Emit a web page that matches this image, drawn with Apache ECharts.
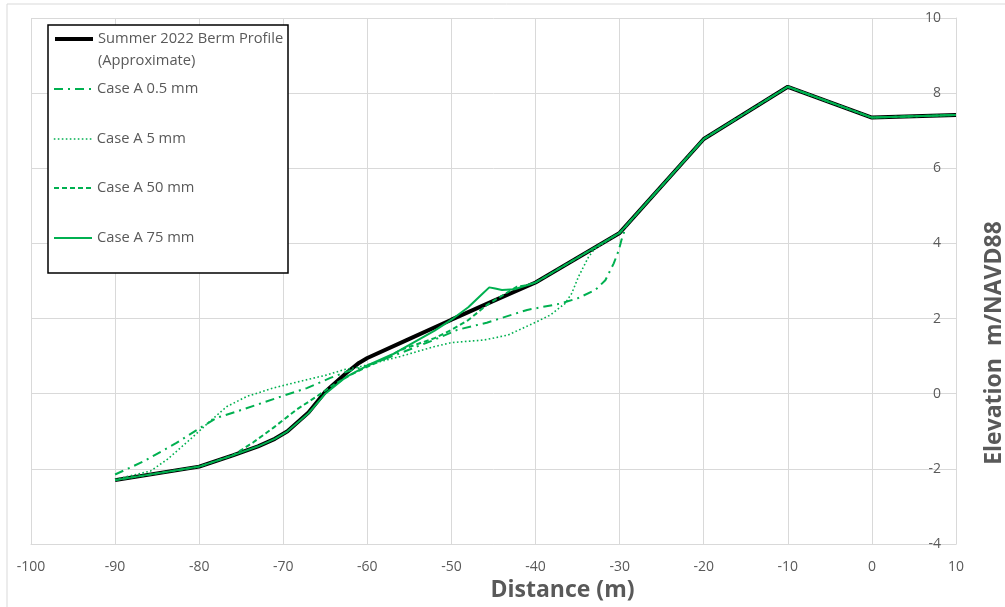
<!DOCTYPE html>
<html>
<head>
<meta charset="utf-8">
<script src="https://cdn.jsdelivr.net/npm/echarts@6/dist/echarts.min.js"></script>
<style>html,body{margin:0;padding:0;background:#fff;}#chart{width:1005px;height:607px;}</style>
</head>
<body>
<div id="chart"></div>
<script>
// ---- data (distance m, elevation m/NAVD88) ----
const seriesNames = ['Summer 2022 Berm Profile\n(Approximate)', 'Case A 0.5 mm', 'Case A 5 mm', 'Case A 50 mm', 'Case A 75 mm'];
const xTicks = [-100, 10, 10];   // min, max, interval
const yTicks = [-4, 10, 2];      // min, max, interval

const profile = [[-90,-2.3],[-85,-2.12],[-80,-1.94],[-76,-1.64],[-73,-1.4],[-71,-1.2],[-69.5,-1.0],[-67,-0.5],[-65,0.05],[-62.5,0.55],[-61,0.82],[-60,0.95],[-55,1.46],[-50,1.97],[-45,2.47],[-40,2.96],[-30,4.28],[-20,6.78],[-10,8.17],[0,7.35],[10,7.42]];

const caseA05 = [[-90,-2.15],[-86.6,-1.8],[-82.7,-1.31],[-79.9,-0.91],[-77.9,-0.64],[-75.5,-0.47],[-73.1,-0.29],[-70.2,-0.07],[-67.2,0.15],[-64.4,0.42],[-62.4,0.59],[-60,0.75],[-56.1,1.08],[-52.1,1.43],[-49.3,1.7],[-45.8,1.89],[-41,2.23],[-37,2.4],[-35,2.54],[-32.9,2.76],[-31.7,3.02],[-30.7,3.47],[-30.1,3.82],[-29.8,4.08],[-29.2,4.48],[-20,6.78],[-10,8.17],[0,7.35],[10,7.42]];

const caseA5 = [[-90,-2.28],[-85.8,-2.06],[-83.8,-1.75],[-81.1,-1.22],[-78.7,-0.73],[-76.7,-0.34],[-74.3,-0.07],[-71.2,0.15],[-68,0.33],[-64.8,0.5],[-62.8,0.64],[-61.2,0.7],[-60,0.77],[-56.1,0.99],[-52.1,1.25],[-50,1.36],[-46.1,1.43],[-43.3,1.56],[-40.2,1.88],[-38.2,2.1],[-36.5,2.4],[-35.7,2.67],[-34.9,3.11],[-33.7,3.64],[-33,3.85],[-30,4.28],[-20,6.78],[-10,8.17],[0,7.35],[10,7.42]];

const caseA50 = [[-90,-2.3],[-85,-2.12],[-80,-1.94],[-76,-1.64],[-73.6,-1.3],[-71.2,-0.91],[-68.4,-0.42],[-66,-0.07],[-64,0.24],[-62,0.5],[-60.4,0.68],[-58,0.92],[-56,1.17],[-52,1.48],[-50,1.7],[-48,1.96],[-45.8,2.36],[-44.2,2.58],[-42.2,2.85],[-41,2.89],[-40,2.96],[-30,4.28],[-20,6.78],[-10,8.17],[0,7.35],[10,7.42]];

const caseA75 = [[-90,-2.3],[-85,-2.12],[-80,-1.94],[-76,-1.64],[-73,-1.4],[-71,-1.2],[-69.5,-1.0],[-67,-0.52],[-65,0.0],[-62.5,0.45],[-60,0.75],[-57,1.05],[-55,1.3],[-52,1.68],[-50,1.97],[-48,2.3],[-46.5,2.62],[-45.5,2.83],[-44.8,2.8],[-44,2.76],[-42.5,2.78],[-40,2.96],[-30,4.28],[-20,6.78],[-10,8.17],[0,7.35],[10,7.42]];

const seriesData = [profile, caseA05, caseA5, caseA50, caseA75];

// ---- styles ----
const green = '#00B050';
const lineStyles = [
  {color:'#000000', width:4, type:'solid'},
  {color:green, width:2, type:[9,5,2,5]},
  {color:green, width:1.6, type:[1.6,2.4]},
  {color:green, width:2, type:[5,3]},
  {color:green, width:2, type:'solid'}
];
const legendTops = [6, 80, 130, 179, 229];
const txt = '#595959';
const font = 'Open Sans';

const chart = echarts.init(document.getElementById('chart'));
chart.setOption({
  animation:false,
  backgroundColor:'#fff',
  grid:{left:31, right:49, top:18, bottom:63, containLabel:false, outerBoundsMode:'none'},
  xAxis:{
    type:'value', min:xTicks[0], max:xTicks[1], interval:xTicks[2],
    name:'Distance (m)', nameLocation:'middle', nameGap:31,
    nameTextStyle:{fontFamily:font, fontSize:23, fontWeight:'bold', color:txt, padding:[0,0,0,138]},
    axisLine:{show:true, onZero:false, lineStyle:{color:'#d9d9d9', width:1}},
    axisTick:{show:false},
    axisLabel:{color:txt, fontFamily:font, fontSize:14, margin:16},
    splitLine:{show:true, lineStyle:{color:'#d9d9d9', width:1}}
  },
  yAxis:{
    type:'value', position:'right', min:yTicks[0], max:yTicks[1], interval:yTicks[2],
    name:'Elevation  m/NAVD88', nameLocation:'middle', nameGap:27, nameRotate:90,
    nameTextStyle:{fontFamily:font, fontSize:23, fontWeight:'bold', color:txt, padding:[0,124,0,0]},
    axisLine:{show:true, onZero:false, lineStyle:{color:'#d9d9d9', width:1}},
    axisTick:{show:false},
    axisLabel:{inside:true, color:txt, fontFamily:font, fontSize:14, margin:15},
    splitLine:{show:true, lineStyle:{color:'#d9d9d9', width:1}}
  },
  graphic:[
    {type:'rect', z:0, silent:true, shape:{x:7, y:4, width:1100, height:700}, style:{fill:'none', stroke:'#d9d9d9', lineWidth:1}},
    {type:'rect', z:10, silent:true, shape:{x:48, y:25, width:240, height:248}, style:{fill:'#fff', stroke:'#000', lineWidth:1.5}}
  ],
  legend: seriesNames.map((n,i)=>({
    data:[n], left:53, top:legendTops[i], padding:0, z:20, orient:'vertical',
    itemWidth:38, itemHeight:14,
    selectedMode:false,
    itemStyle:{opacity:0, borderWidth:0},
    lineStyle:{width:lineStyles[i].width},
    formatter: i===0 ? (s)=>'\n'+s : undefined,
    textStyle: i===0
      ? {color:txt, fontFamily:font, fontSize:14.7, lineHeight:22}
      : {color:txt, fontFamily:font, fontSize:14.7, lineHeight:18}
  })),
  series: seriesNames.map((n,i)=>({
    name:n, type:'line', data:seriesData[i], showSymbol:false, symbol:'none',
    lineStyle:lineStyles[i], itemStyle:{color:lineStyles[i].color},
    z:2+i, smooth:false
  }))
});
</script>
</body>
</html>
